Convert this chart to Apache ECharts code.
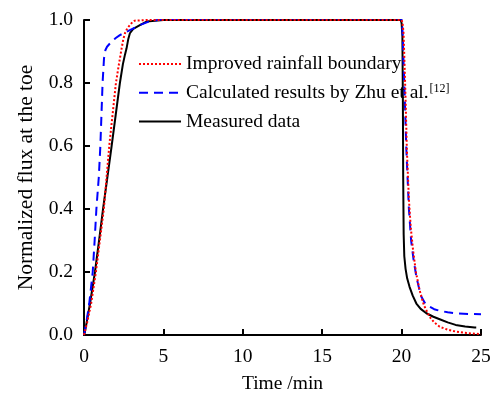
<!DOCTYPE html>
<html>
<head>
<meta charset="utf-8">
<script src="https://cdn.jsdelivr.net/npm/echarts@6/dist/echarts.min.js"></script>
<style>html,body{margin:0;padding:0;background:#fff;}#c{width:492px;height:394px;}</style>
</head>
<body>
<div id="c"></div>
<script>
// Series names
const seriesNames = ['Improved rainfall boundary', 'Calculated results by Zhu et al.', 'Measured data'];
const xTicks = [0, 5, 10, 15, 20, 25];
const yTicks = [0.0, 0.2, 0.4, 0.6, 0.8, 1.0];

// Improved rainfall boundary (red dotted)
const improvedT = [0, 0.2, 0.45, 0.75, 1.0, 1.25, 1.42, 1.59, 1.8, 2.01, 2.2, 2.37, 2.48, 2.58, 2.72, 2.89, 3.05, 3.2, 4, 10,
  20.0, 20.06, 20.12, 20.18, 20.25, 20.33, 20.46, 20.58, 20.72, 20.9, 21.13, 21.4, 21.76, 22.05, 22.4, 22.9, 23.4, 24.1, 24.9, 25];
const improvedV = [0, 0.04, 0.1, 0.2, 0.3, 0.4, 0.5, 0.6, 0.7, 0.8, 0.86, 0.91, 0.94, 0.958, 0.973, 0.984, 0.993, 0.998, 1.0, 1.0,
  1.0, 0.99, 0.96, 0.87, 0.75, 0.59, 0.43, 0.34, 0.27, 0.2, 0.143, 0.095, 0.058, 0.04, 0.026, 0.017, 0.011, 0.006, 0.003, 0.002];

// Calculated results by Zhu et al. (blue dashed)
const zhuT = [0, 0.15, 0.33, 0.55, 0.67, 0.78, 0.93, 1.03, 1.1, 1.17, 1.26, 1.35, 1.45, 1.64, 2.0, 2.26, 2.89, 3.52, 4.15, 5, 10,
  19.98, 20.03, 20.07, 20.12, 20.2, 20.3, 20.46, 20.6, 20.75, 20.93, 21.1, 21.24, 21.45, 21.76, 22.05, 22.4, 22.9, 23.4, 24.2, 25];
const zhuV = [0, 0.04, 0.1, 0.2, 0.3, 0.4, 0.5, 0.6, 0.7, 0.8, 0.878, 0.905, 0.915, 0.926, 0.943, 0.952, 0.968, 0.984, 0.996, 1.003, 1.005,
  1.005, 0.99, 0.95, 0.87, 0.75, 0.587, 0.40, 0.30, 0.24, 0.185, 0.148, 0.122, 0.103, 0.09, 0.082, 0.077, 0.072, 0.069, 0.067, 0.066];

// Measured data (black solid)
const measuredT = [0, 0.06, 0.38, 0.69, 0.95, 1.2, 1.47, 1.74, 2.0, 2.26, 2.45, 2.58, 2.68, 2.79, 2.89, 3.1, 3.52, 3.94, 5, 10,
  19.95, 20.0, 20.05, 20.08, 20.1, 20.13, 20.17, 20.25, 20.35, 20.5, 20.7, 20.93, 21.2, 21.56, 22.0, 22.4, 22.9, 23.4, 24.0, 24.6, 24.7];
const measuredV = [0, 0.01, 0.1, 0.2, 0.3, 0.4, 0.5, 0.6, 0.7, 0.8, 0.86, 0.89, 0.91, 0.94, 0.958, 0.972, 0.984, 0.995, 1.0, 1.0,
  1.0, 0.99, 0.95, 0.75, 0.5, 0.32, 0.25, 0.21, 0.18, 0.153, 0.125, 0.1, 0.083, 0.069, 0.058, 0.05, 0.04, 0.032, 0.027, 0.024, 0.024];

const zip = (a, b) => a.map((v, i) => [v, b[i]]);
const FONT = 'Liberation Serif';

const chart = echarts.init(document.getElementById('c'), null, {renderer: 'canvas'});
chart.setOption({
  animation: false,
  backgroundColor: '#fff',
  grid: {left: 84, right: 11, top: 20, bottom: 59, containLabel: false, outerBoundsMode: 'none'},
  legend: {
    orient: 'vertical',
    left: 133,
    top: 49,
    itemWidth: 42,
    itemHeight: 14,
    itemGap: 8.7,
    data: seriesNames,
    itemStyle: {opacity: 0},
    formatter: function (name) {
      return name === seriesNames[1] ? name + '{sup|[12]}' : name;
    },
    textStyle: {
      fontFamily: FONT, fontSize: 19.5, color: '#000',
      rich: {sup: {fontFamily: FONT, fontSize: 12, color: '#000', verticalAlign: 'top', padding: [0, 0, 8, 1]}}
    }
  },
  xAxis: {
    type: 'value', min: 0, max: 25, interval: 5,
    name: 'Time /min', nameLocation: 'middle', nameGap: 39,
    nameTextStyle: {fontFamily: FONT, fontSize: 19.5, color: '#000'},
    axisLine: {show: true, lineStyle: {color: '#000', width: 2}},
    axisTick: {show: true, inside: true, length: 6, lineStyle: {color: '#000', width: 2}},
    axisLabel: {fontFamily: FONT, fontSize: 19.5, color: '#000', margin: 12,
      customValues: xTicks, formatter: v => String(v)},
    splitLine: {show: false}
  },
  yAxis: {
    type: 'value', min: 0, max: 1, interval: 0.2,
    name: 'Normalized flux at the toe', nameLocation: 'middle', nameGap: 45,
    nameTextStyle: {fontFamily: FONT, fontSize: 21.5, color: '#000'},
    axisLine: {show: true, lineStyle: {color: '#000', width: 2}},
    axisTick: {show: true, inside: true, length: 6, lineStyle: {color: '#000', width: 2}},
    axisLabel: {fontFamily: FONT, fontSize: 19.5, color: '#000', margin: 11,
      formatter: v => v.toFixed(1)},
    splitLine: {show: false}
  },
  series: [
    {
      name: seriesNames[0], type: 'line', data: zip(improvedT, improvedV),
      showSymbol: false, symbol: 'none', smooth: false, z: 3,
      lineStyle: {color: '#ff0000', width: 2, type: [2, 2]}, itemStyle: {color: '#ff0000'}
    },
    {
      name: seriesNames[1], type: 'line', data: zip(zhuT, zhuV),
      showSymbol: false, symbol: 'none', smooth: false, z: 2,
      lineStyle: {color: '#0000ff', width: 2, type: [9, 6]}, itemStyle: {color: '#0000ff'}
    },
    {
      name: seriesNames[2], type: 'line', data: zip(measuredT, measuredV),
      showSymbol: false, symbol: 'none', smooth: false, z: 1,
      lineStyle: {color: '#000', width: 2}, itemStyle: {color: '#000'}
    }
  ]
});
</script>
</body>
</html>
